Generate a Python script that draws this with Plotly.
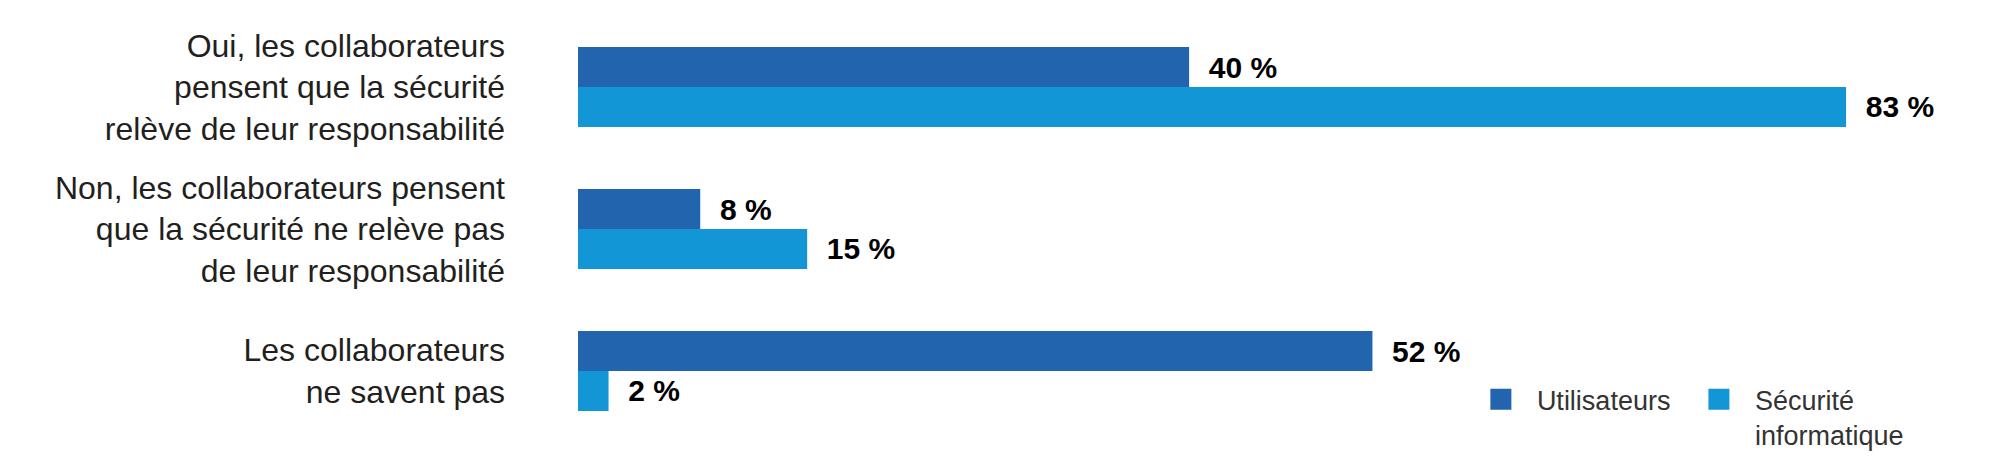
import plotly.graph_objects as go

# categories (top to bottom) and values in %
categories = [
    "Oui, les collaborateurs<br>pensent que la sécurité<br>relève de leur responsabilité",
    "Non, les collaborateurs pensent<br>que la sécurité ne relève pas<br>de leur responsabilité",
    "Les collaborateurs<br>ne savent pas",
]
utilisateurs = [40, 8, 52]
securite_info = [83, 15, 2]

series_names = ["Utilisateurs\u00a0", "Sécurité<br>informatique"]
colors = ["#2364AF", "#1396D6"]

fig = go.Figure()

for name, vals, col in zip(series_names, [utilisateurs, securite_info], colors):
    fig.add_trace(go.Bar(
        y=categories, x=vals, orientation="h", name=name,
        marker=dict(color=col, line=dict(width=0)),
        text=vals, texttemplate="\u00a0\u00a0%{x} %", textposition="outside",
        constraintext="none", cliponaxis=False,
        textfont=dict(family="Liberation Sans", size=30, color="#000000", weight="bold"),
        showlegend=False,
    ))
    # legend entry with a bigger square than the bar legend allows
    fig.add_trace(go.Scatter(
        x=[None], y=[None], mode="markers", name=name,
        marker=dict(symbol="square", size=16, color=col, line=dict(color=col, width=5)),
        showlegend=True,
    ))

fig.update_layout(
    width=2000, height=473,
    margin=dict(l=578, r=47, t=16, b=31, autoexpand=False),
    paper_bgcolor="white", plot_bgcolor="white",
    barmode="group", bargap=0.437, bargroupgap=0,
    font=dict(family="Liberation Sans", color="#231F20"),
    legend=dict(
        orientation="h", x=0.645, y=0.157, xanchor="left", yanchor="top",
        font=dict(size=27, color="#333333"), itemwidth=62, valign="top",
        bgcolor="rgba(0,0,0,0)", tracegroupgap=0,
    ),
)
fig.update_xaxes(range=[0, 90], visible=False, showgrid=False, zeroline=False)
fig.update_yaxes(autorange="reversed", showgrid=False, zeroline=False, showline=False,
                 ticks="", ticklabelstandoff=72, tickfont=dict(size=32, color="#231F20"))

fig.write_html("out.html", config={"displayModeBar": False},
               post_script="document.body.style.margin='0';")
